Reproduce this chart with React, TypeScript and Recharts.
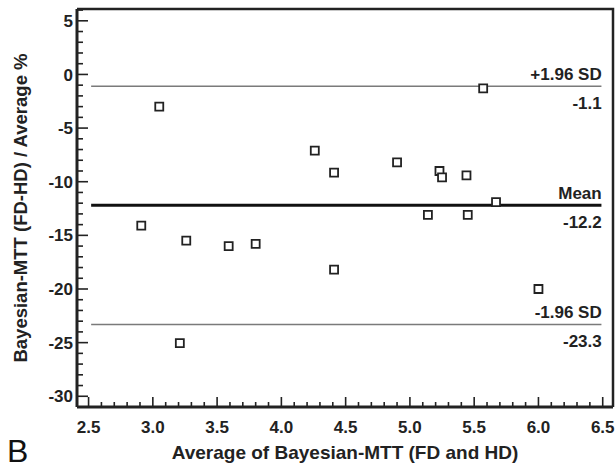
import { ScatterChart, Scatter, XAxis, YAxis, ZAxis, ReferenceLine } from "recharts";

// Bland-Altman: average vs % difference
const avgMtt = [3.05, 4.26, 4.41, 4.90, 2.91, 3.26, 3.59, 3.80, 4.41, 3.21, 5.57, 5.23, 5.25, 5.44, 5.67, 5.14, 5.45, 6.00];
const diffPct = [-3.0, -7.1, -9.15, -8.2, -14.1, -15.5, -16.0, -15.8, -18.2, -25.05, -1.3, -9.0, -9.6, -9.4, -11.9, -13.1, -13.1, -20.0];

const limitValues = [-1.1, -12.2, -23.3];
const limitNames = ["+1.96 SD", "Mean", "-1.96 SD"];

const xMajor = [2.5, 3.0, 3.5, 4.0, 4.5, 5.0, 5.5, 6.0, 6.5];
const yMajor = [-30, -25, -20, -15, -10, -5, 0, 5];

const X_DOMAIN = [2.41, 6.58];
const Y_DOMAIN = [-31, 6.1];

const xMinor: number[] = [];
for (let i = 0; i <= 40; i++) xMinor.push(+(2.5 + i * 0.1).toFixed(1));
const yMinor: number[] = [];
for (let v = -30; v <= 6; v++) yMinor.push(v);

const points = avgMtt.map((x, i) => ({ x, y: diffPct[i] }));

const isMajor = (v: number, list: number[]) => list.some((m) => Math.abs(m - v) < 1e-6);

// tick marks sit on the axes, drawn inward
const xTickMarks = xMinor.map((v) => ({ x: v, y: Y_DOMAIN[0], major: isMajor(v, xMajor) }));
const yTickMarks = yMinor.map((v) => ({ x: X_DOMAIN[0], y: v, major: isMajor(v, yMajor) }));
// top and right edges of the frame
const frame = [
  { x: X_DOMAIN[0], y: Y_DOMAIN[1] },
  { x: X_DOMAIN[1], y: Y_DOMAIN[1] },
  { x: X_DOMAIN[1], y: Y_DOMAIN[0] },
];

const INK = "#222";
const FONT = "'Liberation Sans', Arial, sans-serif";

const XTick = (props: any) => {
  const { x, y, payload } = props;
  return (
    <text x={x} y={y + 26} textAnchor="middle" fontSize={17} fontWeight="bold" fill={INK} fontFamily={FONT}>
      {payload.value.toFixed(1)}
    </text>
  );
};

const YTick = (props: any) => {
  const { x, y, payload } = props;
  return (
    <text x={x - 4} y={y} dy="0.36em" textAnchor="end" fontSize={17} fontWeight="bold" fill={INK} fontFamily={FONT}>
      {payload.value}
    </text>
  );
};

const XMark = ({ cx, cy, payload }: any) => (
  <line x1={cx} x2={cx} y1={cy} y2={cy - (payload.major ? 10 : 5)} stroke={INK} strokeWidth={1.6} />
);

const YMark = ({ cx, cy, payload }: any) => (
  <line x1={cx} x2={cx + (payload.major ? 11 : 6)} y1={cy} y2={cy} stroke={INK} strokeWidth={1.6} />
);

const NoDot = () => <g />;

const labelFont = { fill: INK, fontSize: 17, fontWeight: "bold", fontFamily: FONT };
const titleStyle = { position: "absolute" as const, fontFamily: FONT, fontWeight: "bold", color: INK, whiteSpace: "nowrap" as const, lineHeight: "20px" };

export default function App() {
  return (
    <div style={{ position: "absolute", left: 0, top: 0, width: 616, height: 470, background: "#fff" }}>
      <ScatterChart width={616} height={470} margin={{ top: 9, right: 3, left: 0, bottom: 0 }}>
        <XAxis type="number" dataKey="x" domain={X_DOMAIN} ticks={xMajor} interval={0}
          tickSize={0} tickMargin={0} height={63} tick={<XTick />} tickLine={false}
          axisLine={{ stroke: INK, strokeWidth: 3 }} />
        <YAxis type="number" dataKey="y" domain={Y_DOMAIN} ticks={yMajor} interval={0}
          tickSize={0} tickMargin={0} width={77} tick={<YTick />} tickLine={false}
          axisLine={{ stroke: INK, strokeWidth: 3 }} />
        <ZAxis range={[58, 58]} />
        <Scatter data={xTickMarks} shape={<XMark />} isAnimationActive={false} />
        <Scatter data={yTickMarks} shape={<YMark />} isAnimationActive={false} />
        <Scatter data={frame} shape={<NoDot />} line={{ stroke: INK, strokeWidth: 2.5 }} fill="none" isAnimationActive={false} />
        {limitValues.map((v, i) => (
          <ReferenceLine
            key={"l" + i}
            segment={[{ x: 2.52, y: v }, { x: 6.49, y: v }]}
            stroke={i === 1 ? "#111" : "#7a7a7a"}
            strokeWidth={i === 1 ? 3 : 1.5}
            ifOverflow="visible"
          />
        ))}
        {limitValues.map((v, i) => (
          <ReferenceLine
            key={"n" + i}
            segment={[{ x: 2.52, y: v }, { x: 6.539, y: v }]}
            stroke="none"
            ifOverflow="visible"
            label={{ value: limitNames[i], position: "insideBottomRight", offset: 6, ...labelFont }}
          />
        ))}
        {limitValues.map((v, i) => (
          <ReferenceLine
            key={"v" + i}
            segment={[{ x: 2.52, y: v }, { x: 6.578, y: v }]}
            stroke="none"
            ifOverflow="visible"
            label={{ value: v.toFixed(1), position: "insideTopRight", offset: 11, ...labelFont }}
          />
        ))}
        <Scatter data={points} shape="square" fill="#fff" stroke={INK} strokeWidth={1.8} isAnimationActive={false} />
      </ScatterChart>
      <div style={{ ...titleStyle, left: 77, width: 536, top: 443, fontSize: 19, textAlign: "center" }}>
        Average of Bayesian-MTT (FD and  HD)
      </div>
      <div style={{ ...titleStyle, left: 21 - 199, top: 208 - 10, width: 398, fontSize: 18.5, textAlign: "center", transform: "rotate(-90deg)" }}>
        Bayesian-MTT (FD-HD) / Average %
      </div>
      <span style={{ position: "absolute", left: 7, top: 435, fontFamily: FONT, fontSize: 32, color: "#111", lineHeight: "32px" }}>B</span>
    </div>
  );
}
